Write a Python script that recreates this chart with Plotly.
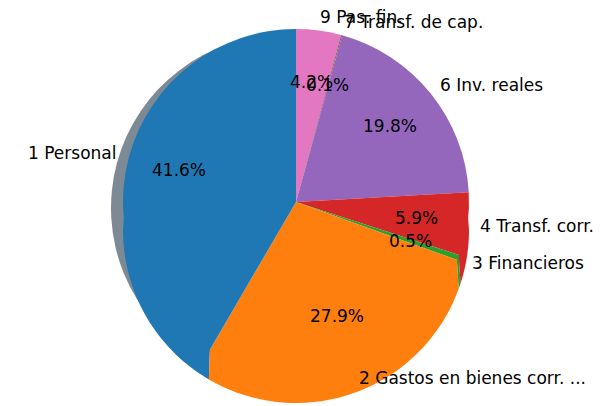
import numpy as np
import plotly.graph_objects as go

labels = ["1 Personal", "2 Gastos en bienes corr. ...", "3 Financieros",
          "4 Transf. corr.", "6 Inv. reales", "7 Transf. de cap.", "9 Pas. fin."]
shares = [41.6, 27.9, 0.5, 5.9, 19.8, 0.1, 4.2]
colors = ["#1f77b4", "#ff7f0e", "#2ca02c", "#d62728", "#9467bd", "#8c564b", "#e377c2"]

W, H = 607, 406
OFF = 8  # page body margin
cx, cy, r = 296 - OFF, 202 - OFF, 173  # pie centre / radius in figure pixels
depth = 28  # lower rim of the pie is pulled down like a thick disc


def dom(x0, y0, rad):
    return dict(x=[(x0 - rad) / W, (x0 + rad) / W],
                y=[(H - y0 - rad) / H, (H - y0 + rad) / H])


def to_paper(x, y):
    return f"{x / W:.5f},{1 - y / H:.5f}"


# matplotlib goes counter-clockwise from 12 o'clock; plotly clockwise with reversed order
rev_vals = shares[::-1]
rev_labels = labels[::-1]
shadow_colors = ["rgba(0,0,0,0)"] * (len(shares) - 1) + ["#7d8a95"]

fig = go.Figure()

# shadow under the first wedge
fig.add_trace(go.Pie(
    values=rev_vals, labels=rev_labels, sort=False, direction="clockwise", rotation=0,
    marker=dict(colors=shadow_colors, line=dict(width=0)),
    textinfo="none", hoverinfo="skip", showlegend=False,
    domain=dom(cx - 12, cy + 6, r),
))

fig.add_trace(go.Pie(
    values=rev_vals, labels=rev_labels, sort=False, direction="clockwise", rotation=0,
    marker=dict(colors=colors[::-1], line=dict(width=0)),
    textinfo="none", showlegend=False,
    domain=dom(cx, cy, r),
))

total = sum(shares)
cum = 0
for lab, v, col in zip(labels, shares, colors):
    a0 = 90 + cum / total * 360
    a1 = 90 + (cum + v) / total * 360
    mid = np.deg2rad((a0 + a1) / 2)
    cum += v

    # band under the lower rim of this wedge (starts a bit inside to hide the seam)
    lo, hi = max(a0, 180), min(a1, 360)
    if hi > lo:
        t = np.deg2rad(np.linspace(lo, hi, 40))
        xs = cx + r * np.cos(t)
        ys = cy - r * np.sin(t)
        inner = [to_paper(cx + (r - 2) * np.cos(a), cy - (r - 2) * np.sin(a)) for a in t]
        outer = [to_paper(x, y + depth) for x, y in zip(xs[::-1], ys[::-1])]
        fig.add_shape(type="path", xref="paper", yref="paper",
                      path="M " + " L ".join(inner + outer) + " Z",
                      fillcolor=col, line=dict(width=0), layer="above")

    # labels placed like matplotlib: names just outside, percents at 0.7 r
    c, s = np.cos(mid), np.sin(mid)
    lx, ly = cx + 1.08 * r * c, cy - 1.08 * r * s
    fig.add_annotation(x=lx / W, y=1 - ly / H, xref="paper", yref="paper",
                       text=lab, showarrow=False, xshift=-3 if c > 0 else 3,
                       xanchor="left" if c > 0 else "right", yanchor="middle",
                       font=dict(family="DejaVu Sans", size=17, color="#000000"))
    px, py = cx + 0.7 * r * c, cy - 0.7 * r * s
    fig.add_annotation(x=px / W, y=1 - py / H, xref="paper", yref="paper",
                       text=f"{v / total * 100:.1f}%", showarrow=False,
                       xanchor="center", yanchor="middle",
                       font=dict(family="DejaVu Sans", size=17, color="#000000"))

fig.update_layout(width=W, height=H, margin=dict(l=0, r=0, t=0, b=0),
                  paper_bgcolor="white", plot_bgcolor="white")

fig.write_html("out.html")
